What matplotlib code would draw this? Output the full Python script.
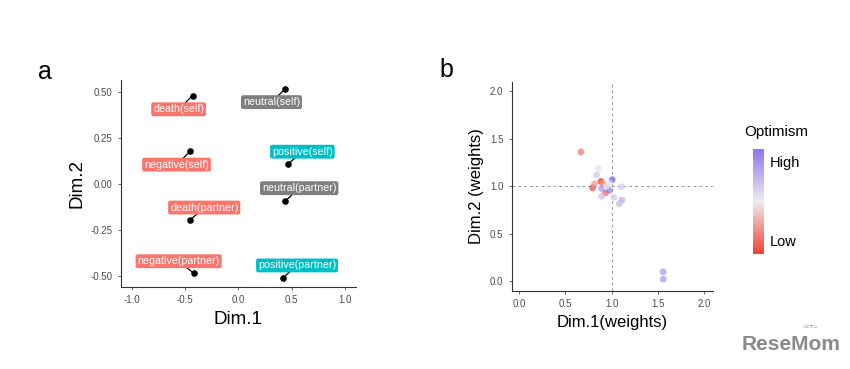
import matplotlib.pyplot as plt
from matplotlib.colors import LinearSegmentedColormap
import numpy as np

plt.rcParams['font.family'] = ['Liberation Sans', 'DejaVu Sans']

# panel a: MDS of conditions
cond_names = ['death(self)', 'neutral(self)', 'negative(self)', 'positive(self)',
              'neutral(partner)', 'death(partner)', 'negative(partner)', 'positive(partner)']
cond_x = [-0.43, 0.44, -0.45, 0.465, 0.437, -0.456, -0.42, 0.42]
cond_y = [0.478, 0.515, 0.177, 0.107, -0.095, -0.198, -0.484, -0.509]
label_x = [-0.56, 0.31, -0.58, 0.60, 0.57, -0.32, -0.56, 0.55]
label_y = [0.404, 0.443, 0.104, 0.174, -0.024, -0.129, -0.42, -0.443]
cond_group = ['neg', 'neu', 'neg', 'pos', 'neu', 'neg', 'neg', 'pos']
group_colors = {'neg': '#F8766D', 'neu': '#7F7F7F', 'pos': '#00BFC4'}

# panel b: subject weights
w_x = [0.668, 1.558, 1.558, 1.007, 1.108, 1.025, 1.112, 1.083, 0.838, 0.856,
       0.885, 0.795, 0.817, 0.91, 0.935, 0.892, 0.892, 0.975, 0.946, 0.98]
w_y = [1.36, 0.098, 0.021, 1.069, 0.995, 0.882, 0.854, 0.815, 1.118, 1.188,
       1.05, 0.984, 1.026, 1.026, 0.93, 0.977, 0.893, 0.956, 0.998, 1.03]
optimism = [0.2, 0.8, 0.8, 1.0, 0.62, 0.62, 0.72, 0.68, 0.62, 0.48,
            0.05, 0.1, 0.3, 0.3, 0.15, 0.8, 0.65, 0.9, 0.55, 0.52]

cmap = LinearSegmentedColormap.from_list('opt', ['#F21E10', '#EDE9E9', '#7B5CF0'])

fig = plt.figure(figsize=(8.5, 3.69), dpi=100)

# ---- panel a
ax = fig.add_axes([0.1424, 0.2222, 0.2761, 0.561])
for i in range(len(cond_names)):
    ax.plot([cond_x[i], label_x[i]], [cond_y[i], label_y[i]], color='black', lw=0.9, zorder=1)
    ax.text(label_x[i], label_y[i], cond_names[i], color='white', fontsize=7.7,
            ha='center', va='center', zorder=3,
            bbox=dict(boxstyle='round,pad=0.18,rounding_size=0.2',
                      fc=group_colors[cond_group[i]], ec='none'))
ax.scatter(cond_x, cond_y, s=14, color='black', zorder=2)
ax.set_xlim(-1.1, 1.1)
ax.set_ylim(-0.56, 0.563)
ax.set_xticks([-1.0, -0.5, 0.0, 0.5, 1.0])
ax.set_xticklabels(['-1.0', '-0.5', '0.0', '0.5', '1.0'])
ax.set_yticks([-0.5, -0.25, 0.0, 0.25, 0.5])
ax.set_yticklabels(['-0.50', '-0.25', '0.00', '0.25', '0.50'])
ax.set_xlabel('Dim.1', fontsize=13.5, labelpad=4)
ax.set_ylabel('Dim.2', fontsize=13.5, labelpad=4)
fig.text(0.053, 0.805, 'a', fontsize=18, ha='center', va='center')

# ---- panel b
bx = fig.add_axes([0.602, 0.2122, 0.2372, 0.5664])
bx.axvline(1.0, color='#999999', ls=(0, (3, 3)), lw=0.7, zorder=0)
bx.axhline(1.0, color='#999999', ls=(0, (3, 3)), lw=0.7, zorder=0)
bx.scatter(w_x, w_y, c=optimism, cmap=cmap, vmin=0, vmax=1, s=24, alpha=0.7,
           edgecolors='none', zorder=2)
bx.set_xlim(-0.08, 2.1)
bx.set_ylim(-0.1, 2.1)
bx.set_xticks([0.0, 0.5, 1.0, 1.5, 2.0])
bx.set_xticklabels(['0.0', '0.5', '1.0', '1.5', '2.0'])
bx.set_yticks([0.0, 0.5, 1.0, 1.5, 2.0])
bx.set_yticklabels(['0.0', '0.5', '1.0', '1.5', '2.0'])
bx.set_xlabel('Dim.1(weights)', fontsize=12, labelpad=4)
bx.set_ylabel('Dim.2 (weights)', fontsize=12, labelpad=4)
fig.text(0.525, 0.81, 'b', fontsize=18, ha='center', va='center')

for a in (ax, bx):
    for s in ('top', 'right'):
        a.spines[s].set_visible(False)
    for s in ('left', 'bottom'):
        a.spines[s].set_linewidth(0.8)
        a.spines[s].set_color('#333333')
    a.tick_params(labelsize=7, colors='#4D4D4D', length=2.5, width=0.6)

# colorbar legend
cax = fig.add_axes([0.8862, 0.3117, 0.0126, 0.2837])
grad = np.linspace(0, 1, 256).reshape(-1, 1)
cax.imshow(grad, aspect='auto', cmap=cmap, origin='lower', alpha=0.85)
cax.set_xticks([])
cax.set_yticks([])
for s in cax.spines.values():
    s.set_visible(False)
fig.text(0.913, 0.643, 'Optimism', fontsize=11, ha='center', va='center')
fig.text(0.906, 0.558, 'High', fontsize=10.5, ha='left', va='center')
fig.text(0.906, 0.345, 'Low', fontsize=10.5, ha='left', va='center')

# watermark
fig.text(0.872, 0.04, 'ReseMom', fontsize=15, fontweight='bold', color='#8A8A8A',
         ha='left', va='bottom')
fig.text(0.962, 0.11, 'リセマム', fontsize=3, color='#8A8A8A', ha='right',
         family=['Noto Sans CJK JP', 'DejaVu Sans'])

fig.savefig('out.png', dpi=100)
